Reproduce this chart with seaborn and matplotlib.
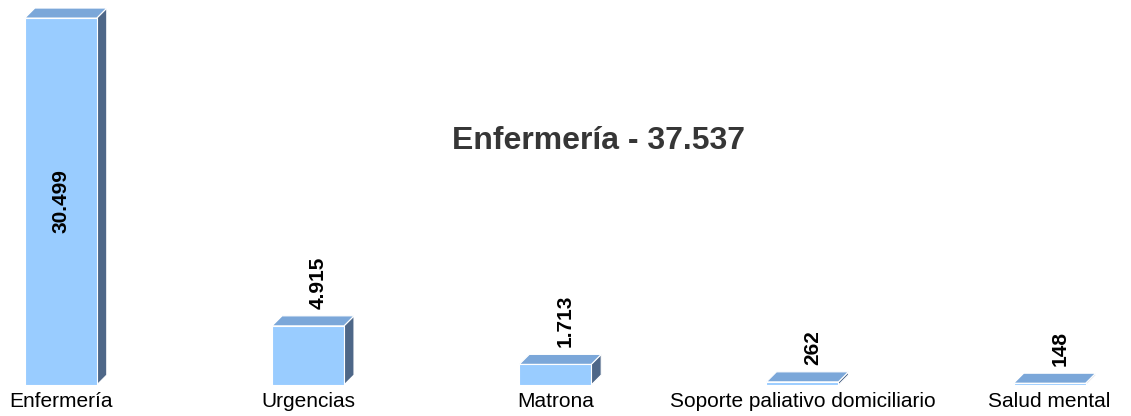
import numpy as np
import pandas as pd
import seaborn as sns
import matplotlib.pyplot as plt
from matplotlib.patches import Polygon

# data
categories = ['Enfermería', 'Urgencias', 'Matrona', 'Soporte paliativo domiciliario', 'Salud mental']
values = [30499, 4915, 1713, 262, 148]
value_labels = ['30.499', '4.915', '1.713', '262', '148']
title = 'Enfermería - 37.537'

df = pd.DataFrame({'categoria': categories, 'total': values})

sns.set_theme(style='white')
plt.rcParams['font.family'] = ['Liberation Sans', 'DejaVu Sans']

front = '#99CCFF'
top_col = '#7BA7D9'
side_col = '#4E6788'

fig = plt.figure(figsize=(11.31, 4.16), dpi=100)
ax = fig.add_axes([0, 31 / 416, 1, 385 / 416])

sns.barplot(data=df, x='categoria', y='total', color=front, saturation=1,
            width=0.291, edgecolor='white', linewidth=0.8, ax=ax, zorder=2)

xmin, xmax = -0.246, 4.329
ax.set_xlim(xmin, xmax)
ax.set_ylim(0, 32000)

# depth of the 3d look, 10 px right and up, converted to data units
px_x = (xmax - xmin) / 1131
px_y = 32000 / 385
dx = 10 * px_x
dy = 10 * px_y

for i, p in enumerate(ax.patches):
    x0 = p.get_x()
    w = p.get_width()
    h = p.get_height()
    side = Polygon([(x0 + w, 0), (x0 + w + dx, dy), (x0 + w + dx, h + dy), (x0 + w, h)],
                   closed=True, facecolor=side_col, edgecolor='white', linewidth=0.8, zorder=1)
    top = Polygon([(x0, h), (x0 + w, h), (x0 + w + dx, h + dy), (x0 + dx, h + dy)],
                  closed=True, facecolor=top_col, edgecolor='white', linewidth=0.8, zorder=1.5)
    ax.add_patch(side)
    ax.add_patch(top)

    cx = x0 + w / 2
    if h == max(values):
        ax.text(cx, h / 2, value_labels[i], rotation=90, ha='center', va='center',
                fontsize=15, fontweight='bold', color='black', zorder=3)
    else:
        ax.annotate(value_labels[i], (cx + dx, h + dy), xytext=(0, 5), textcoords='offset points',
                    rotation=90, ha='center', va='bottom',
                    fontsize=15, fontweight='bold', color='black', zorder=3)

ax.set_xlabel('')
ax.set_ylabel('')
ax.set_yticks([])
ax.tick_params(axis='x', length=0, pad=5, labelsize=15, labelcolor='black')
sns.despine(ax=ax, left=True, bottom=True)

fig.text(599 / 1131, 1 - 141 / 416, title, ha='center', va='center',
         fontsize=23, fontweight='bold', color='#363636')

fig.savefig('out.png', dpi=100)
